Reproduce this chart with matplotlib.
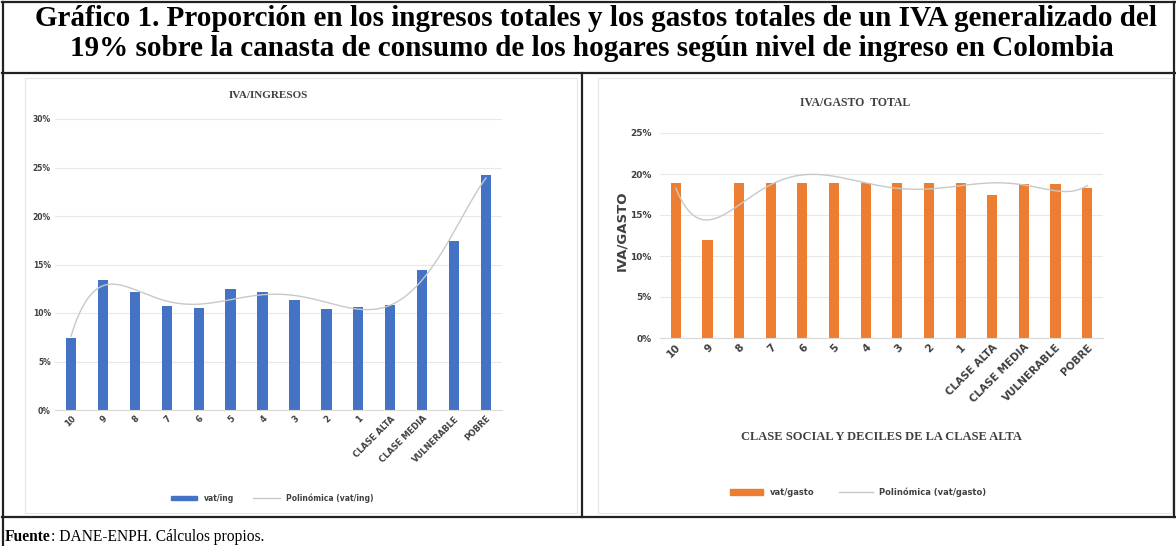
import numpy as np
import matplotlib
matplotlib.use("Agg")
import matplotlib.pyplot as plt
from matplotlib.patches import Rectangle, Patch
from matplotlib.lines import Line2D
from matplotlib.ticker import PercentFormatter

categories = ["10", "9", "8", "7", "6", "5", "4", "3", "2", "1",
              "CLASE ALTA", "CLASE MEDIA", "VULNERABLE", "POBRE"]
iva_ingresos = [7.4, 13.4, 12.2, 10.7, 10.5, 12.5, 12.2, 11.3, 10.45, 10.6,
                10.8, 14.4, 17.4, 24.2]
iva_gasto = [18.9, 11.95, 18.9, 18.9, 18.9, 18.9, 18.9, 18.9, 18.9, 18.9,
             17.4, 18.75, 18.75, 18.3]

W, H = 1176, 546
fig = plt.figure(figsize=(W / 100, H / 100), dpi=100)
fig.patch.set_facecolor("white")


def fx(px):
    return px / W


def fy(py):
    return 1 - py / H


def ax_rect(x0, x1, ytop, ybot):
    return [fx(x0), fy(ybot), fx(x1) - fx(x0), fy(ytop) - fy(ybot)]


def hline(y, x0, x1, lw=1.6):
    fig.add_artist(Line2D([fx(x0), fx(x1)], [fy(y), fy(y)], color="#222222", lw=lw))


def vline(x, y0, y1, lw=1.6):
    fig.add_artist(Line2D([fx(x), fx(x)], [fy(y0), fy(y1)], color="#222222", lw=lw))


hline(2, 2, 1175)
hline(73, 2, 1175)
hline(517, 2, 1175)
vline(3, 2, 546)
vline(1174, 2, 517)
vline(582, 73, 517)

fig.add_artist(Rectangle((fx(25), fy(513)), fx(577) - fx(25), fy(78) - fy(513),
                         fill=False, ec="#E6E6E6", lw=0.8))
fig.add_artist(Rectangle((fx(598), fy(513)), fx(1172) - fx(598), fy(78) - fy(513),
                         fill=False, ec="#E6E6E6", lw=0.8))

serif = "Liberation Serif"
fig.text(fx(596), fy(18), "Gráfico 1. Proporción en los ingresos totales y los gastos totales de un IVA generalizado del",
         ha="center", va="center", fontsize=21, fontweight="bold", family=serif)
fig.text(fx(592), fy(48), "19% sobre la canasta de consumo de los hogares según nivel de ingreso en Colombia",
         ha="center", va="center", fontsize=21, fontweight="bold", family=serif)

t_f = fig.text(fx(5), fy(537), "Fuente", ha="left", va="center", fontsize=11.2,
               fontweight="bold", family=serif)
renderer = fig.canvas.get_renderer()
bb = t_f.get_window_extent(renderer=renderer)
fig.text(bb.x1 / W, fy(537), ": DANE-ENPH. Cálculos propios.", ha="left", va="center",
         fontsize=11.2, family=serif)

x = np.arange(len(categories))


def trend(vals, deg=6):
    coeffs = np.polyfit(x, vals, deg)
    xs = np.linspace(0, len(vals) - 1, 300)
    return xs, np.polyval(coeffs, xs)


def style_axes(ax, ymax, xsize, ysize):
    ax.set_xlim(-0.5, len(categories) - 0.5)
    ax.set_ylim(0, ymax)
    ax.set_yticks(np.arange(0, ymax + 0.1, 5))
    ax.yaxis.set_major_formatter(PercentFormatter(decimals=0))
    ax.grid(axis="y", color="#E8E8E8", lw=0.8)
    ax.set_axisbelow(True)
    for s in ["top", "right", "left"]:
        ax.spines[s].set_visible(False)
    ax.spines["bottom"].set_color("#D9D9D9")
    ax.tick_params(axis="both", length=0, pad=3)
    ax.set_xticks(x)
    ax.set_xticklabels(categories, rotation=45, ha="right", rotation_mode="anchor",
                       fontsize=xsize, fontweight="bold", color="#404040")
    for lab in ax.get_yticklabels():
        lab.set_fontsize(ysize)
        lab.set_fontweight("bold")
        lab.set_color("#404040")


# Left chart
ax1 = fig.add_axes(ax_rect(55, 502, 119, 410))
ax1.bar(x, iva_ingresos, width=0.32, color="#4472C4", zorder=2)
xs, ys = trend(iva_ingresos)
ax1.plot(xs, ys, color="#C8C8C8", lw=1.0, zorder=3)
style_axes(ax1, 30, 6, 5.5)
fig.text(fx(268), fy(96), "IVA/INGRESOS", ha="center", va="center", fontsize=8,
         fontweight="bold", family=serif, color="#404040")

fig.legend(handles=[Patch(color="#4472C4", label="vat/ing"),
                    Line2D([], [], color="#C8C8C8", lw=1.0, label="Polinómica (vat/ing)")],
           loc="center", bbox_to_anchor=(fx(272), fy(498)), ncol=2, frameon=False,
           prop=dict(size=5.5, weight="bold"), handlelength=3.5, handleheight=0.5,
           columnspacing=2.5, labelcolor="#404040")

# Right chart
ax2 = fig.add_axes(ax_rect(660, 1103, 133, 338))
ax2.bar(x, iva_gasto, width=0.32, color="#ED7D31", zorder=2)
xs, ys = trend(iva_gasto)
ax2.plot(xs, ys, color="#C8C8C8", lw=1.0, zorder=3)
style_axes(ax2, 25, 7.5, 6.5)
ax2.tick_params(axis="y", pad=6)
fig.text(fx(855), fy(103), "IVA/GASTO  TOTAL", ha="center", va="center", fontsize=8.5,
         fontweight="bold", family=serif, color="#404040")
fig.text(fx(622), fy((133 + 338) / 2 - 5), "IVA/GASTO", ha="center", va="center", rotation=90,
         fontsize=9.5, fontweight="bold", color="#404040")
fig.text(fx(881), fy(437), "CLASE SOCIAL Y DECILES DE LA CLASE ALTA", ha="center", va="center",
         fontsize=9, fontweight="bold", family=serif, color="#404040")

fig.legend(handles=[Patch(color="#ED7D31", label="vat/gasto"),
                    Line2D([], [], color="#C8C8C8", lw=1.0, label="Polinómica (vat/gasto)")],
           loc="center", bbox_to_anchor=(fx(858), fy(492)), ncol=2, frameon=False,
           prop=dict(size=6, weight="bold"), handlelength=4.0, handleheight=0.8,
           columnspacing=3.0, labelcolor="#404040")

fig.savefig("out.png", dpi=100, facecolor="white")
